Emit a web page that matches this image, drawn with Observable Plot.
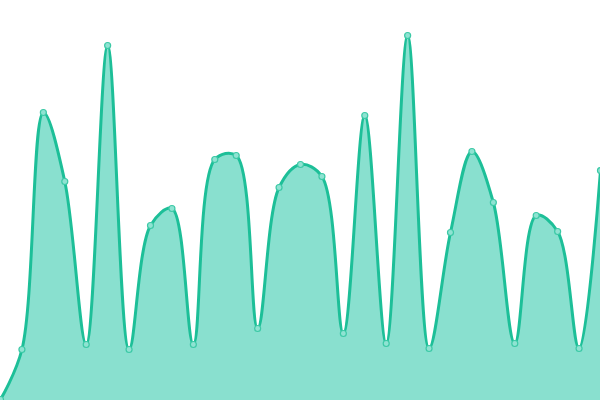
<!DOCTYPE html>
<html>
<head>
<meta charset="utf-8">
<script src="https://cdn.jsdelivr.net/npm/d3@7"></script>
<script src="https://cdn.jsdelivr.net/npm/@observablehq/plot@0.6"></script>
<style>
html, body { margin: 0; padding: 0; overflow: hidden; background: #fff; }
</style>
</head>
<body>
<div id="chart"></div>
<script>
const indices = d3.range(29);
const values = [1, 51, 288, 219, 56, 355, 51, 175, 192, 56, 241, 245, 72, 213, 236, 224, 67, 285, 57, 365, 52, 168, 249, 198, 57, 185, 169, 52, 230];

const data = indices.map((i) => ({x: i, y: values[i]}));

const chart = Plot.plot({
  width: 600,
  height: 400,
  margin: 0,
  x: {domain: [0, 28], range: [0, 600], axis: null},
  y: {domain: [0, 400], range: [400, 0], axis: null},
  marks: [
    Plot.areaY(data, {x: "x", y: "y", curve: "catmull-rom", fill: "#89e0cf"}),
    Plot.lineY(data, {x: "x", y: "y", curve: "catmull-rom", stroke: "#1dbf98", strokeWidth: 3}),
    Plot.dot(data, {x: "x", y: "y", r: 3, fill: "#8fe3d2", stroke: "#3cc9a6", strokeWidth: 1.2})
  ]
});
document.getElementById("chart").appendChild(chart);
</script>
</body>
</html>
